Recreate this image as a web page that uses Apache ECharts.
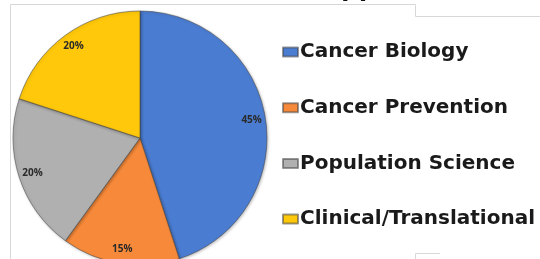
<!DOCTYPE html>
<html>
<head>
<meta charset="utf-8">
<script src="https://cdn.jsdelivr.net/npm/echarts@6/dist/echarts.min.js"></script>
<style>html,body{margin:0;padding:0;background:#fff;}#c{width:540px;height:259px;}</style>
</head>
<body>
<div id="c"></div>
<script>
const categories = ['Cancer Biology', 'Cancer Prevention', 'Population Science', 'Clinical/Translational'];
const values = [45, 15, 20, 20];
const labels = ['45%', '15%', '20%', '20%'];
const colors = ['#4a7cd1', '#f78a3a', '#b0b0b0', '#ffc80a'];

const chart = echarts.init(document.getElementById('c'), null, {renderer: 'canvas'});
const pieData = categories.map((n, i) => ({name: n, value: values[i], itemStyle: {color: colors[i]}}));
const labelData = categories.map((n, i) => ({name: n, value: values[i], label: {formatter: labels[i]}}));
const center = [140, 138];
chart.setOption({
  animation: false,
  legend: {
    orient: 'vertical',
    left: 277,
    top: 37,
    itemWidth: 15,
    itemHeight: 9,
    itemGap: 35.7,
    icon: 'rect',
    data: categories,
    textStyle: {fontFamily: 'DejaVu Sans', fontWeight: 'bold', fontSize: 20, color: '#1a1a1a', padding: [0,0,0,-3]}
  },
  graphic: [
    {type: 'polyline', shape: {points: [[10.5, 259], [10.5, 4.5], [415.5, 4.5], [415.5, 16.5], [540, 16.5]]}, style: {stroke: '#d8d8d8', fill: null, lineWidth: 1}, silent: true},
    {type: 'polyline', shape: {points: [[415.5, 259], [415.5, 253.5], [440, 253.5]]}, style: {stroke: '#d8d8d8', fill: null, lineWidth: 1}, silent: true},
    {type: 'text', left: 341, top: -28, style: {text: 'pp', font: 'bold 28px "Open Sans"', fill: '#111'}, silent: true}
  ],
  series: [
    {
      type: 'pie',
      center: center,
      radius: [0, 127],
      startAngle: 90,
      clockwise: true,
      silent: true,
      label: {show: false},
      labelLine: {show: false},
      itemStyle: {borderColor: 'rgba(70,70,70,0.55)', borderWidth: 1, shadowColor: 'rgba(0,0,0,0.25)', shadowBlur: 3, shadowOffsetX: 1, shadowOffsetY: 1},
      data: pieData
    },
    {
      type: 'pie',
      center: center,
      radius: [93, 127],
      startAngle: 90,
      clockwise: true,
      silent: true,
      legendHoverLink: false,
      itemStyle: {color: 'rgba(0,0,0,0)'},
      label: {show: true, position: 'inside', fontFamily: 'Open Sans', fontWeight: 'bold', fontSize: 10, color: '#2a2a2a'},
      labelLine: {show: false},
      data: labelData
    }
  ]
});
</script>
</body>
</html>
